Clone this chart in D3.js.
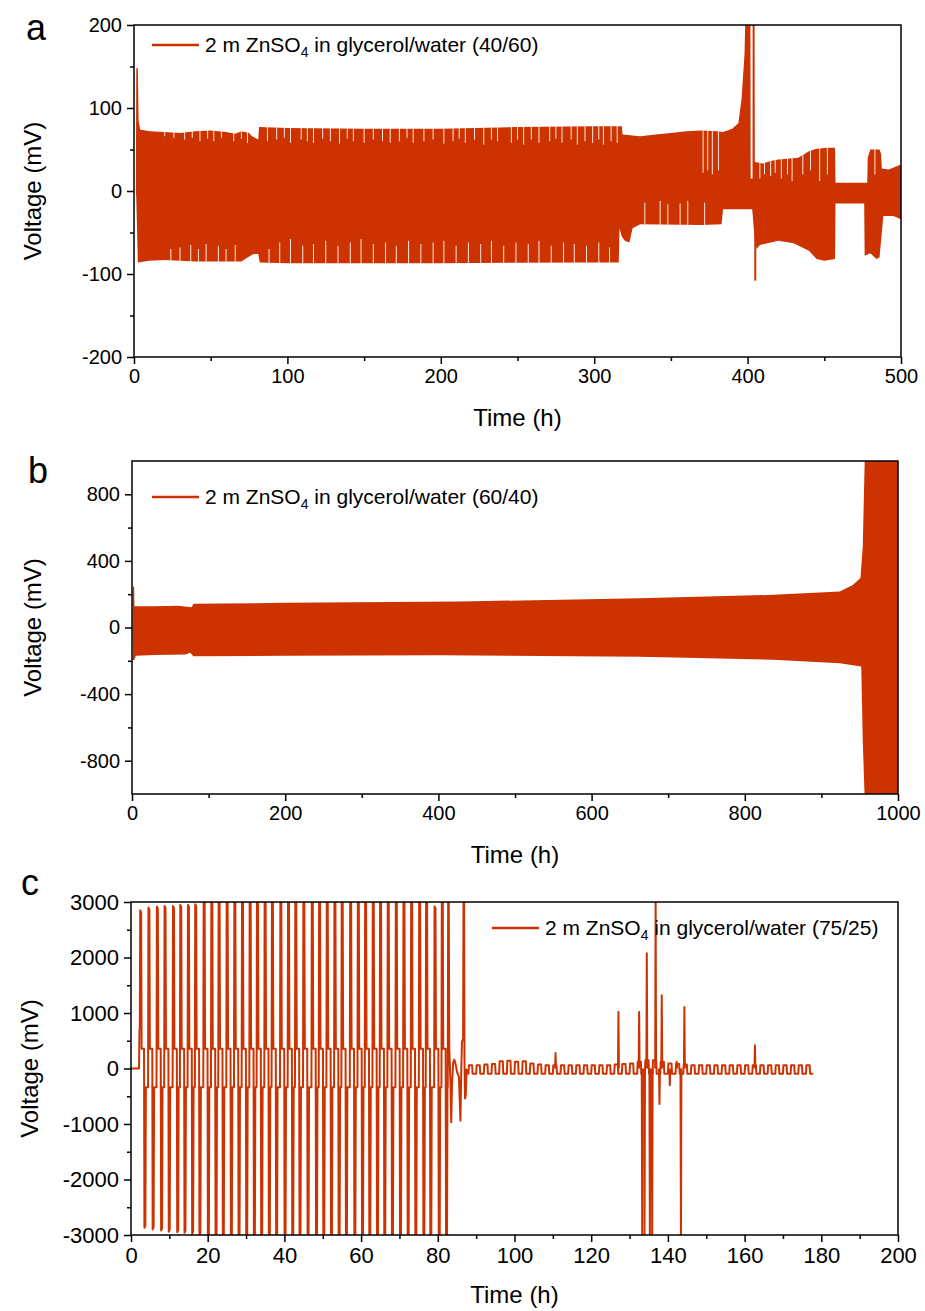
<!DOCTYPE html>
<html>
<head>
<meta charset="utf-8">
<script src="https://cdn.jsdelivr.net/npm/d3@7"></script>
<style>
  body { margin: 0; background: #fff; }
  text { font-family: 'Liberation Sans', Arial, sans-serif; }
</style>
</head>
<body>
<div id="container"></div>
<script>
// ---------- data ----------
// panel a: envelope of the dense cycling trace, [time h, mV]
let aUpper = [[1.2,0],[1.5,148],[2.5,148],[3,85],[4,74],[10,72],[20,71],[30,70],[40,72],[50,73],[60,71],[66,69],[70,72],[75,70],[77,66],[81,62],[81.5,77],[100,76],[150,75],[200,75],[250,77],[300,78],[318,78],[318.5,68],[330,66],[340,68],[350,70],[360,72],[370,73],[380,72],[384,71],[390,75],[394,82],[396,110],[398,165],[399,250],[401.8,250],[402,15],[403.2,15],[403.3,250],[404.5,250],[404.7,35],[410,33],[415,36],[420,38],[433,40],[440,48],[445,51],[452,52],[457,52],[457.3,10],[478,10],[478.3,40],[480,50],[486,50],[487,45],[487.5,27],[492,26],[500,32]]
let aLower = [[1.2,0],[1.5,-10],[2.5,-86],[10,-84],[20,-83],[30,-84],[40,-85],[70,-85],[74,-80],[78,-76],[81,-76],[82,-86],[100,-87],[200,-87],[300,-86],[316,-86],[316.5,-45],[318,-55],[320,-60],[323,-62],[325,-45],[330,-40],[370,-41],[383,-40],[384,-22],[403,-22],[404.7,-60],[406,-70],[408,-65],[420,-60],[430,-63],[440,-72],[445,-82],[450,-84],[457,-82],[457.3,-15],[476,-15],[476.3,-78],[480,-75],[484,-82],[486,-80],[487,-60],[488.5,-30],[495,-30],[500,-34]]
// cycles that fell short of the envelope (light gaps), [time, end mV]
let aGapTop = [[20,66],[26,64],[33,62],[38,64],[43,60],[48,63],[52,60],[57,64],[65,60],[70,63],[74,58],[87,60],[93,62],[98,64],[102,58],[109,62],[113,60],[117,58],[123,63],[128,60],[134,57],[139,63],[143,60],[150,58],[156,62],[162,60],[167,58],[173,60],[178,64],[182,58],[189,60],[195,62],[202,57],[208,60],[212,63],[216,58],[222,62],[228,56],[233,62],[237,60],[246,58],[250,62],[254,56],[259,62],[264,58],[271,60],[275,63],[279,58],[285,62],[289,56],[294,60],[299,58],[303,62],[306,56],[311,60],[315,58],[371,22],[374,25],[377,20],[381,25],[408,15],[411,20],[415,18],[418,22],[422,15],[426,20],[429,12],[436,20],[441,25],[447,12],[452,20],[483,20]]
let aGapBot = [[24,-70],[30,-68],[37,-65],[42,-70],[47,-64],[55,-66],[60,-70],[66,-65],[88,-70],[95,-62],[102,-58],[110,-66],[117,-64],[125,-60],[133,-66],[141,-62],[148,-58],[156,-64],[164,-62],[171,-66],[179,-60],[187,-64],[195,-62],[202,-60],[210,-66],[218,-62],[226,-64],[233,-60],[241,-66],[249,-62],[257,-64],[264,-60],[272,-66],[280,-62],[287,-64],[295,-66],[303,-62],[310,-68],[333,-14],[343,-12],[348,-16],[356,-15],[361,-12],[372,-14]]
let aSpikes = [[405,-108]]
let aXTicks = [0,100,200,300,400,500], aXMinor = [50,150,250,350,450]
let aYTicks = [-200,-100,0,100,200], aYMinor = [-150,-50,50,150]

// panel b
let bUpper = [[0.5,0],[1,245],[2.8,245],[3.2,128],[30,128],[60,130],[72,125],[78,122],[80,142],[200,148],[428,156],[663,176],[837,196],[924,216],[941,256],[951,298],[954,486],[957,1100],[1000,1100]]
let bLower = [[0.5,0],[1,-195],[3,-195],[5,-170],[30,-165],[70,-162],[76,-152],[80,-172],[200,-170],[402,-167],[663,-176],[837,-194],[924,-214],[952,-234],[954,-680],[957,-1100],[1000,-1100]]
let bXTicks = [0,200,400,600,800,1000], bXMinor = [100,300,500,700,900]
let bYTicks = [-800,-400,0,400,800], bYMinor = [-600,-200,200,600]

// panel c: one entry per cycle (time of the charge spike, spike heights)
let cUpT = [2.35,4.5,6.7,8.7,10.9,12.8,14.8,16.7,18.9,20.9,22.8,24.9,26.9,28.9,30.9,32.8,34.8,36.7,38.9,40.9,42.8,44.9,47.1,49.0,51.0,53.0,54.9,57.1,59.1,61.0,63.0,64.9,66.9,69.0,71.0,73.0,75.1,76.9,79.1,81.0]
let cUpV = [2850,2900,2920,2930,2930,2950,2950,2960,3100,3100,3100,3100,3100,3100,3100,3100,3100,3100,3100,3100,3100,3100,3100,3100,3100,3100,3100,3100,3100,3100,3100,3100,3100,3100,3100,3100,3100,3100,2920,3100]
let cDnV = [-2870,-2900,-2920,-2940,-2950,-2960,-2980,-3000,-3100,-3100,-3100,-3100,-3100,-3100,-3100,-3100,-3100,-3100,-3100,-3100,-3100,-3100,-3100,-3100,-3100,-3100,-3100,-3100,-3100,-3100,-3100,-3100,-3100,-3100,-3100,-3100,-3100,-3100,-3100,-3100]
let cPlateau = [356, -338]
let cStart = [[0,0],[2.1,0],[2.2,700],[2.28,720]]
let cTail = [[82.6,-338],[82.7,3100],[82.85,3100],[83.0,350],[83.3,-250],[83.5,-970],[83.7,-300],[84.0,100],[84.3,160],[84.7,60],[85.0,-60],[85.5,-150],[85.9,-940],[86.1,-100],[86.3,480],[86.6,540],[86.7,3100],[86.85,3100],[86.95,200],[87.1,-540],[87.3,-480],[87.5,-20],[88,-95]]
let cSmallT = [88,90,92,94,96,98,100,102,104,106,108,110,112,114,116,118,120,122,124,126,128,130,132,134,136,138,140,142,144,146,148,150,152,154,156,158,160,162,164,166,168,170,172,174,176]
let cSmallHi = [60,60,70,80,130,140,120,130,90,70,60,60,60,60,60,60,60,60,60,70,80,90,120,150,150,120,90,80,70,60,60,60,60,60,60,60,60,60,60,60,60,60,60,60,60]
let cSmallLo = -95
let cSpikes = [[110.7,280],[127.1,1020],[132.5,1020],[133.3,-3100],[133.9,-3100],[134.5,2075],[135.3,-3100],[135.9,-3100],[136.8,3100],[137.8,-640],[138.4,1320],[140.5,-300],[142.3,120],[143.4,-3100],[144.3,1110],[162.7,420]]
let cXTicks = [0,20,40,60,80,100,120,140,160,180,200], cXMinor = [10,30,50,70,90,110,130,150,170,190]
let cYTicks = [-3000,-2000,-1000,0,1000,2000,3000], cYMinor = [-2500,-1500,-500,500,1500,2500]

// ---------- drawing ----------
let red = '#cc3300'
let svg = d3.select('#container').append('svg')
  .attr('width', 925)
  .attr('height', 1311)

function panel(p) {
  let x = d3.scaleLinear().domain(p.xDom).range([p.left, p.right])
  let y = d3.scaleLinear().domain(p.yDom).range([p.bottom, p.top])
  let g = svg.append('g')

  svg.append('clipPath').attr('id', 'clip-' + p.name)
    .append('rect')
    .attr('x', p.left).attr('y', p.top)
    .attr('width', p.right - p.left).attr('height', p.bottom - p.top)
  let plot = g.append('g').attr('clip-path', 'url(#clip-' + p.name + ')')

  let fmt = d => String(d)
  let style = sel => {
    sel.select('.domain').remove()
    sel.selectAll('line').attr('stroke', '#000').attr('stroke-width', 1.5)
    sel.selectAll('text').attr('fill', '#000').style('font-size', p.tickFont + 'px')
      .style('font-family', "'Liberation Sans', Arial, sans-serif")
  }
  g.append('g').attr('transform', 'translate(0,' + p.bottom + ')')
    .call(d3.axisBottom(x).tickValues(p.xMinor).tickSize(4).tickFormat('')).call(style)
  g.append('g').attr('transform', 'translate(0,' + p.bottom + ')')
    .call(d3.axisBottom(x).tickValues(p.xTicks).tickSize(7).tickPadding(5).tickFormat(fmt)).call(style)
  g.append('g').attr('transform', 'translate(' + p.left + ',0)')
    .call(d3.axisLeft(y).tickValues(p.yMinor).tickSize(4).tickFormat('')).call(style)
  g.append('g').attr('transform', 'translate(' + p.left + ',0)')
    .call(d3.axisLeft(y).tickValues(p.yTicks).tickSize(7).tickPadding(5).tickFormat(fmt)).call(style)

  g.append('text').text('Time (h)')
    .attr('x', (p.left + p.right) / 2).attr('y', p.bottom + p.xLabelDy)
    .attr('text-anchor', 'middle').style('font-size', '24px')
  g.append('text').text('Voltage (mV)')
    .attr('transform', 'translate(' + p.yLabelX + ',' + (p.top + p.bottom) / 2 + ') rotate(-90)')
    .attr('text-anchor', 'middle').style('font-size', '24px')
  g.append('text').text(p.name)
    .attr('x', p.letterX).attr('y', p.letterY).style('font-size', '36px')

  return { g: g, plot: plot, x: x, y: y, p: p }
}

function frame(P) {
  let p = P.p
  P.g.append('rect')
    .attr('x', p.left).attr('y', p.top)
    .attr('width', p.right - p.left).attr('height', p.bottom - p.top)
    .attr('fill', 'none').attr('stroke', '#000').attr('stroke-width', 1.5)
}

function legend(P, lx, ly, ratio) {
  P.g.append('line')
    .attr('x1', lx).attr('x2', lx + 47).attr('y1', ly).attr('y2', ly)
    .attr('stroke', red).attr('stroke-width', 2.5)
  let t = P.g.append('text').attr('x', lx + 53).attr('y', ly + 7).style('font-size', '21px')
  t.append('tspan').text('2 m ZnSO')
  t.append('tspan').text('4').style('font-size', '14px').attr('dy', 5)
  t.append('tspan').text(' in glycerol/water (' + ratio + ')').attr('dy', -5)
}

// envelope value at time t (linear between read points)
function envAt(arr, t) {
  let i = d3.bisector(d => d[0]).right(arr, t)
  if (i <= 0) return arr[0][1]
  if (i >= arr.length) return arr[arr.length - 1][1]
  let a = arr[i - 1], b = arr[i]
  return a[1] + (b[1] - a[1]) * (t - a[0]) / (b[0] - a[0])
}

// dense cycling drawn as one filled band between upper and lower envelope
function band(P, upper, lower) {
  let line = d3.line().x(d => P.x(d[0])).y(d => P.y(d[1]))
  P.plot.append('path')
    .attr('d', line(upper.concat(lower.slice().reverse())) + 'Z')
    .attr('fill', red)
}

// ----- panel a -----
let A = panel({ name: 'a', left: 134, right: 901, top: 25, bottom: 357,
  xDom: [0, 500], yDom: [-200, 200], xTicks: aXTicks, xMinor: aXMinor, yTicks: aYTicks, yMinor: aYMinor,
  tickFont: 20, xLabelDy: 69, yLabelX: 41, letterX: 26, letterY: 40 })
band(A, aUpper, aLower)
A.plot.selectAll('.gt').data(aGapTop).enter().append('line')
  .attr('x1', d => A.x(d[0])).attr('x2', d => A.x(d[0]))
  .attr('y1', d => A.y(envAt(aUpper, d[0])) - 1).attr('y2', d => A.y(d[1]))
  .attr('stroke', '#fbe6df').attr('stroke-width', 1)
A.plot.selectAll('.gb').data(aGapBot).enter().append('line')
  .attr('x1', d => A.x(d[0])).attr('x2', d => A.x(d[0]))
  .attr('y1', d => A.y(envAt(aLower, d[0])) + 1).attr('y2', d => A.y(d[1]))
  .attr('stroke', '#fbe6df').attr('stroke-width', 1)
A.plot.selectAll('.sp').data(aSpikes).enter().append('line')
  .attr('x1', d => A.x(d[0])).attr('x2', d => A.x(d[0]))
  .attr('y1', A.y(0)).attr('y2', d => A.y(d[1]))
  .attr('stroke', red).attr('stroke-width', 2)
frame(A)
legend(A, 152, 45, '40/60')

// ----- panel b -----
let B = panel({ name: 'b', left: 132, right: 898, top: 461, bottom: 794,
  xDom: [0, 1000], yDom: [-1000, 1000], xTicks: bXTicks, xMinor: bXMinor, yTicks: bYTicks, yMinor: bYMinor,
  tickFont: 20, xLabelDy: 69, yLabelX: 41, letterX: 28, letterY: 483 })
band(B, bUpper, bLower)
frame(B)
legend(B, 152, 497, '60/40')

// ----- panel c -----
let C = panel({ name: 'c', left: 131, right: 898, top: 902, bottom: 1235,
  xDom: [0, 200], yDom: [-3000, 3000], xTicks: cXTicks, xMinor: cXMinor, yTicks: cYTicks, yMinor: cYMinor,
  tickFont: 22, xLabelDy: 68, yLabelX: 38, letterX: 21, letterY: 895 })

let half = 1.1
let cPts = cStart.slice()
cUpT.forEach((T, i) => {
  cPts.push([T - 0.05, i ? cPlateau[1] : 720], [T + 0.05, cUpV[i]], [T + 0.3, cUpV[i] - 40], [T + 0.42, cPlateau[0]],
    [T + half - 0.05, cPlateau[0]], [T + half + 0.05, cDnV[i]], [T + half + 0.3, cDnV[i] + 40], [T + half + 0.42, cPlateau[1]])
})
cPts = cPts.concat(cTail)
cSmallT.forEach((t, i) => {
  cPts.push([t, cSmallLo], [t + 0.12, cSmallHi[i]], [t + 0.95, cSmallHi[i]], [t + 1.07, cSmallLo])
})
cPts.push([177.9, cSmallLo])

let line = d3.line().x(d => C.x(d[0])).y(d => C.y(d[1]))
C.plot.append('path').attr('d', line(cPts))
  .attr('fill', 'none').attr('stroke', red).attr('stroke-width', 2).attr('stroke-linejoin', 'round')
C.plot.selectAll('.sp').data(cSpikes).enter().append('path')
  .attr('d', d => line([[d[0] - 0.12, 0], [d[0], d[1]], [d[0] + 0.12, 0]]))
  .attr('fill', 'none').attr('stroke', red).attr('stroke-width', 2).attr('stroke-linejoin', 'round')
frame(C)
legend(C, 492, 928, '75/25')
</script>
</body>
</html>
